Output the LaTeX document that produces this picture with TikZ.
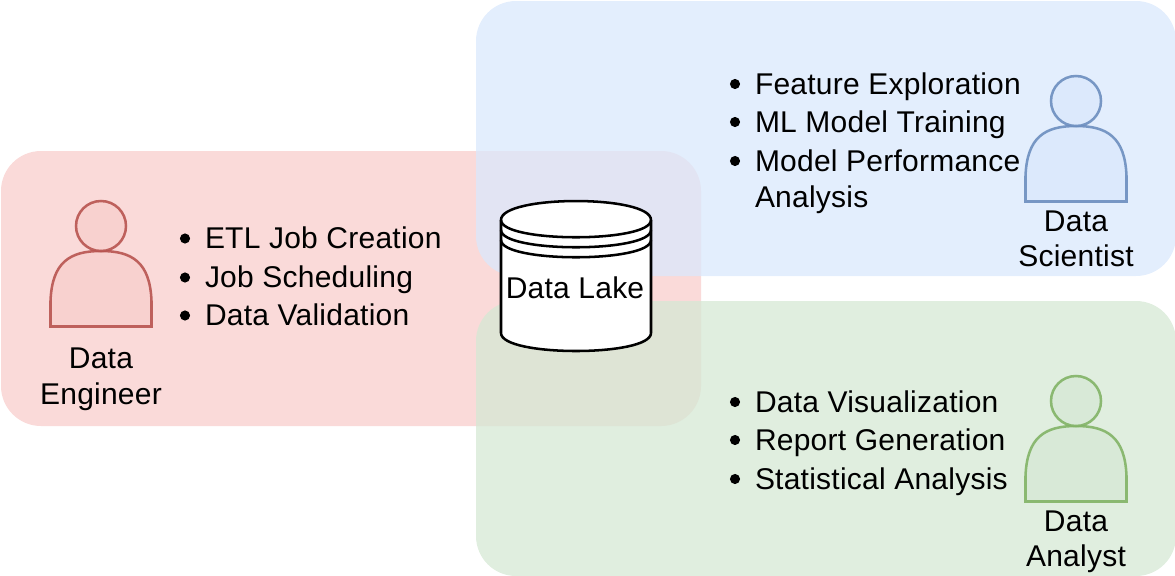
\documentclass[tikz,border=0pt]{standalone}
\usepackage{fontspec}
\setmainfont[LetterSpace=0.8]{Liberation Sans}
\definecolor{redfill}{HTML}{F8CECC}
\definecolor{redline}{HTML}{B85450}
\definecolor{bluefill}{HTML}{DAE8FC}
\definecolor{blueline}{HTML}{6C8EBF}
\definecolor{greenfill}{HTML}{D5E8D4}
\definecolor{greenline}{HTML}{82B366}
\tikzset{
  x=0.75pt, y=-0.75pt,
  zone/.style={rounded corners=30pt, opacity=0.75},
  person/.style={line width=1.9pt, opacity=0.9, fill opacity=0.75},
  label/.style={inner sep=0pt, outer sep=0pt, font=\fontsize{22.5}{27}\selectfont},
  item/.style={label, anchor=base west},
  role/.style={label, anchor=base},
  bullet/.style={circle, fill=black, inner sep=0pt, minimum size=7.6pt}
}
\newcommand{\personfig}[4]{% x, y(top of body), fill, line
  \draw[person, fill=#3, draw=#4] (#1-50.5,#2+75.5) -- (#1-50.5,#2+50)
    .. controls (#1-49,#2+11) and (#1-31,#2) .. (#1,#2)
    .. controls (#1+31,#2) and (#1+49,#2+11) .. (#1+50.5,#2+50)
    -- (#1+50.5,#2+75.5) -- cycle;
  \draw[person, fill=#3, draw=#4] (#1,#2-25) circle[radius=25];
}
\newcommand{\listitem}[4]{% name, x, baseline, text
  \node[bullet] (b#1) at (#2,#3-10) {};
  \node[item] (#1) at (#2+20,#3) {#4};
}
\begin{document}
\begin{tikzpicture}
\useasboundingbox (0,0) rectangle (1175,575);
\clip (0,0) rectangle (1175,575);
\fill[zone, fill=redfill] (1,151) rectangle (701,426);
\fill[zone, fill=bluefill] (476,1) rectangle (1176,276);
\fill[zone, fill=greenfill] (476,301) rectangle (1176,576);

\personfig{101}{251}{redfill}{redline}
\personfig{1076}{126}{bluefill}{blueline}
\personfig{1076}{426}{greenfill}{greenline}

% Data Lake store
\draw[line width=1.9pt, fill=white] (501,220)
  .. controls (501,194.7) and (651,194.7) .. (651,220)
  -- (651,333)
  .. controls (651,357) and (501,357) .. (501,333) -- cycle;
\draw[line width=1.9pt] (501,220) .. controls (501,243) and (651,243) .. (651,220);
\draw[line width=1.9pt] (501,230) .. controls (501,253) and (651,253) .. (651,230);
\draw[line width=1.9pt] (501,240) .. controls (501,263) and (651,263) .. (651,240);
\node[role] (lake) at (575,298.5) {Data Lake};

\listitem{e1}{185}{248.5}{ETL Job Creation}
\listitem{e2}{185}{287.5}{Job Scheduling}
\listitem{e3}{185}{325.5}{Data Validation}
\node[role] (eng1) at (101,368) {Data};
\node[role] (eng2) at (101,404) {Engineer};

\listitem{s1}{735}{94}{Feature Exploration}
\listitem{s2}{735}{132}{ML Model Training}
\listitem{s3}{735}{171}{Model Performance}
\node[item] (s4) at (755,207) {Analysis};
\node[role] (sci1) at (1076,231) {Data};
\node[role] (sci2) at (1076,266) {Scientist};

\listitem{a1}{735}{412}{Data Visualization}
\listitem{a2}{735}{450}{Report Generation}
\listitem{a3}{735}{489}{Statistical Analysis}
\node[role] (an1) at (1076,531) {Data};
\node[role] (an2) at (1076,566) {Analyst};
\end{tikzpicture}
\end{document}
